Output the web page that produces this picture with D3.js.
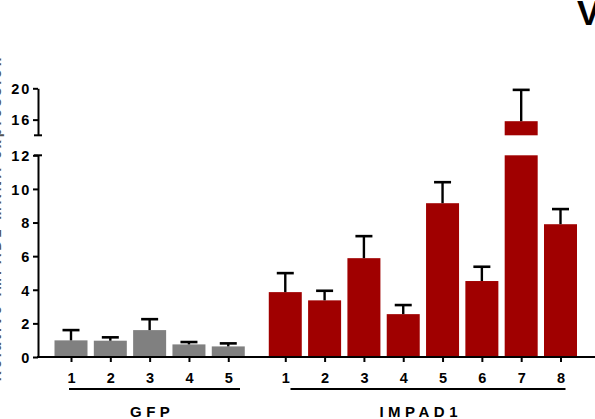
<!DOCTYPE html>
<html>
<head>
<meta charset="utf-8">
<script src="https://cdn.jsdelivr.net/npm/d3@7/dist/d3.min.js"></script>
<style>
  html, body { margin: 0; padding: 0; background: #fff; }
  svg { display: block; font-family: "Liberation Sans", Arial, sans-serif; font-weight: bold; }
</style>
</head>
<body>
<svg id="chart" width="595" height="419"></svg>
<script>
// Relative expression per clone
const gfpLabels = ["1", "2", "3", "4", "5"];
const gfpMeans  = [0.99, 0.97, 1.60, 0.75, 0.63];
const gfpErrors = [0.61, 0.20, 0.65, 0.14, 0.18];

const impLabels = ["1", "2", "3", "4", "5", "6", "7", "8"];
const impMeans  = [3.86, 3.37, 5.88, 2.55, 9.15, 4.52, 15.8, 7.90];
const impErrors = [1.13, 0.57, 1.31, 0.54, 1.25, 0.85, 4.0, 0.90];

const groupNames = ["GFP", "IMPAD1"];
const lowerTicks = [0, 2, 4, 6, 8, 10, 12];
const upperTicks = [16, 20];
const yTitle = "Relative IMPAD1 mRNA expression";

const svg = d3.select("#chart");
const axisX = 38, baseY = 357;
const GAP = 1.45;              // extra slot spacing between the two groups
const BAR_W = 33, CAP_W = 17;

// broken y axis: 0–12 below, 14–20 above
const yLow = d3.scaleLinear().domain([0, 12]).range([baseY, 155.3]);
const yHigh = d3.scaleLinear().domain([14, 20]).range([135.3, 88.3]);

// slot index -> x position
const x = d3.scaleLinear().domain([0, 4 + GAP + 7]).range([71, 560.5]);

const bars = [
  ...gfpMeans.map((v, i) => ({ label: gfpLabels[i], v, e: gfpErrors[i], slot: i, color: "#808080" })),
  ...impMeans.map((v, i) => ({ label: impLabels[i], v, e: impErrors[i], slot: 4 + GAP + i, color: "#a00000" }))
];

// bars: lower segment clipped at 12, upper segment above the break
const gBars = svg.append("g");
bars.forEach(d => {
  const cx = x(d.slot);
  const lowTop = Math.min(d.v, 12);
  gBars.append("rect")
    .attr("x", cx - BAR_W / 2).attr("width", BAR_W)
    .attr("y", yLow(lowTop)).attr("height", yLow(0) - yLow(lowTop))
    .attr("fill", d.color);
  if (d.v > 14) {
    gBars.append("rect")
      .attr("x", cx - BAR_W / 2).attr("width", BAR_W)
      .attr("y", yHigh(d.v)).attr("height", yHigh(14) - yHigh(d.v))
      .attr("fill", d.color);
  }
  // upward error bar
  const yv = d.v > 14 ? yHigh : yLow;
  const top = d.v + d.e;
  gBars.append("line")
    .attr("x1", cx).attr("x2", cx)
    .attr("y1", yv(d.v)).attr("y2", yv(top))
    .attr("stroke", "#000").attr("stroke-width", 2.4);
  gBars.append("line")
    .attr("x1", cx - CAP_W / 2).attr("x2", cx + CAP_W / 2)
    .attr("y1", yv(top)).attr("y2", yv(top))
    .attr("stroke", "#000").attr("stroke-width", 2.6);
});

// y axes
function styleAxis(g) {
  g.selectAll(".domain").attr("stroke", "#000").attr("stroke-width", 2);
  g.selectAll(".tick line").attr("stroke", "#000").attr("stroke-width", 2);
  g.selectAll(".tick text")
    .attr("fill", "#000").attr("font-size", 14.5).attr("font-weight", "bold")
    .attr("letter-spacing", 1.8).attr("x", -7).attr("dy", "0.36em");
}
const gLow = svg.append("g").attr("transform", `translate(${axisX},0)`)
  .call(d3.axisLeft(yLow).tickValues(lowerTicks).tickSize(5).tickSizeOuter(0).tickFormat(d3.format("d")));
gLow.call(styleAxis);
const gHigh = svg.append("g").attr("transform", `translate(${axisX},0)`)
  .call(d3.axisLeft(yHigh).tickValues(upperTicks).tickSize(5).tickSizeOuter(0).tickFormat(d3.format("d")));
gHigh.call(styleAxis);

// caps at the break
[yLow(12), yHigh(14)].forEach(yy => {
  svg.append("line")
    .attr("x1", axisX - 4).attr("x2", axisX + 4)
    .attr("y1", yy).attr("y2", yy)
    .attr("stroke", "#000").attr("stroke-width", 2);
});

// x baseline and tick marks
svg.append("line")
  .attr("x1", axisX - 1).attr("x2", 595)
  .attr("y1", baseY).attr("y2", baseY)
  .attr("stroke", "#000").attr("stroke-width", 2);

const gX = svg.append("g").attr("transform", `translate(0,${baseY})`)
  .call(d3.axisBottom(x)
    .tickValues(bars.map(d => d.slot))
    .tickFormat((d, i) => bars[i].label)
    .tickSize(5).tickPadding(11));
gX.select(".domain").remove();
gX.selectAll(".tick line").attr("stroke", "#000").attr("stroke-width", 2);
gX.selectAll(".tick text").attr("fill", "#000").attr("font-size", 14.5).attr("font-weight", "bold");

// group underlines and names
const groups = [
  { name: groupNames[0], x1: 69, x2: 240, cx: 150 },
  { name: groupNames[1], x1: 290.5, x2: 565.5, cx: 418.5 }
];
groups.forEach(g => {
  svg.append("line")
    .attr("x1", g.x1).attr("x2", g.x2)
    .attr("y1", 389).attr("y2", 389)
    .attr("stroke", "#000").attr("stroke-width", 2);
  svg.append("text")
    .attr("x", g.cx + 2.2).attr("y", 416.5)
    .attr("text-anchor", "middle")
    .attr("font-size", 15).attr("letter-spacing", 4.5)
    .text(g.name);
});

// y axis title (runs off the left edge)
svg.append("text")
  .attr("transform", "translate(1.2,218) rotate(-90)")
  .attr("text-anchor", "middle")
  .attr("font-size", 14).attr("letter-spacing", 3)
  .attr("fill", "#555")
  .text(yTitle);

// panel letter
svg.append("text")
  .attr("x", 577).attr("y", 25)
  .attr("font-size", 35).attr("font-weight", "bold")
  .text("V");
</script>
</body>
</html>
